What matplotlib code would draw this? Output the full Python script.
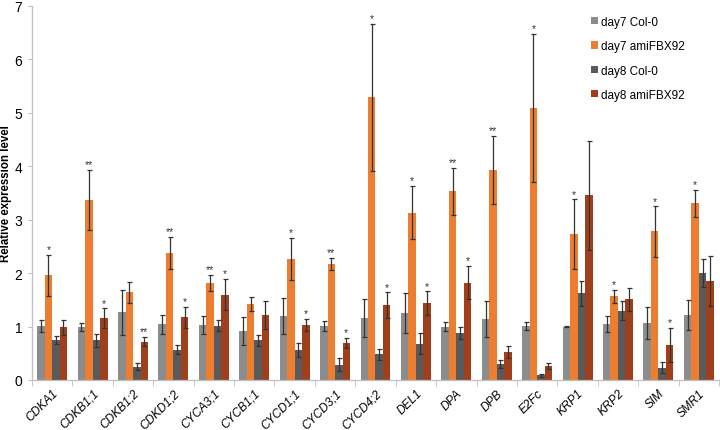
import matplotlib
matplotlib.use("Agg")
import matplotlib.pyplot as plt
import numpy as np
from matplotlib.patches import Patch

plt.rcParams['font.family'] = ['Liberation Sans', 'DejaVu Sans']

genes = ["CDKA1", "CDKB1;1", "CDKB1;2", "CDKD1;2", "CYCA3;1", "CYCB1;1", "CYCD1;1",
         "CYCD3;1", "CYCD4;2", "DEL1", "DPA", "DPB", "E2Fc", "KRP1", "KRP2", "SIM", "SMR1"]
series_names = ["day7 Col-0", "day7 amiFBX92", "day8 Col-0", "day8 amiFBX92"]

day7_col = [1.01, 0.99, 1.27, 1.04, 1.03, 0.91, 1.20, 1.01, 1.16, 1.25, 1.00, 1.14, 1.01, 1.00, 1.04, 1.06, 1.22]
day7_col_err = [0.12, 0.07, 0.42, 0.17, 0.17, 0.26, 0.34, 0.09, 0.36, 0.37, 0.08, 0.33, 0.07, 0.01, 0.15, 0.30, 0.28]
day7_ami = [1.96, 3.37, 1.64, 2.38, 1.82, 1.42, 2.27, 2.17, 5.29, 3.13, 3.53, 3.93, 5.09, 2.73, 1.57, 2.78, 3.31]
day7_ami_err = [0.38, 0.56, 0.20, 0.30, 0.15, 0.13, 0.39, 0.12, 1.38, 0.50, 0.44, 0.64, 1.39, 0.65, 0.12, 0.47, 0.25]
day8_col = [0.75, 0.74, 0.25, 0.57, 1.02, 0.74, 0.56, 0.29, 0.48, 0.68, 0.88, 0.30, 0.09, 1.62, 1.30, 0.23, 2.00]
day8_col_err = [0.07, 0.12, 0.06, 0.08, 0.10, 0.11, 0.13, 0.12, 0.10, 0.20, 0.11, 0.07, 0.03, 0.24, 0.17, 0.10, 0.26]
day8_ami = [0.99, 1.16, 0.72, 1.17, 1.60, 1.22, 1.03, 0.69, 1.40, 1.44, 1.82, 0.52, 0.26, 3.46, 1.51, 0.66, 1.86]
day8_ami_err = [0.14, 0.18, 0.09, 0.20, 0.29, 0.26, 0.12, 0.10, 0.24, 0.22, 0.31, 0.11, 0.05, 1.02, 0.21, 0.32, 0.47]

sig_day7_ami = ['*', '**', '', '**', '**', '', '*', '**', '*', '*', '**', '**', '*', '*', '*', '*', '*']
sig_day8_ami = ['', '*', '**', '*', '*', '', '*', '*', '*', '*', '*', '', '', '', '', '*', '']

y_ticks = [0, 1, 2, 3, 4, 5, 6, 7]

colors = ['#8C8C8C', '#ED7D31', '#5A5A5A', '#A03F1C']

fig = plt.figure(figsize=(7.2, 4.31), dpi=100)
ax = fig.add_axes([32 / 720, 50 / 431, 687 / 720, 374 / 431])

x = np.arange(len(genes))
w = 0.185
values = [day7_col, day7_ami, day8_col, day8_ami]
errors = [day7_col_err, day7_ami_err, day8_col_err, day8_ami_err]
sigs = [None, sig_day7_ami, None, sig_day8_ami]

for k in range(4):
    xs = x + (k - 1.5) * w
    ax.bar(xs, values[k], width=w, color=colors[k], zorder=2)
    ax.errorbar(xs, values[k], yerr=errors[k], fmt='none', ecolor='#333333',
                elinewidth=0.9, capsize=1.8, capthick=0.9, zorder=3)
    if sigs[k] is not None:
        for xi, v, e, s in zip(xs, values[k], errors[k], sigs[k]):
            if s:
                ax.annotate(s, (xi, v + e), xytext=(0, 0.5), textcoords='offset points',
                            ha='center', va='bottom', fontsize=7.5, color='#333333')

ax.set_xlim(-0.5, len(genes) - 0.5)
ax.set_ylim(0, 7)
ax.set_yticks(y_ticks)
ax.set_yticklabels([str(t) for t in y_ticks], fontsize=10)

ax.set_xticks(x)
ax.set_xticklabels(genes, rotation=45, ha='right', rotation_mode='anchor',
                   fontsize=8.6, style='italic')
ax.tick_params(axis='x', which='major', length=0, pad=5)
ax.set_xticks(np.arange(-0.5, len(genes), 1), minor=True)
ax.tick_params(axis='x', which='minor', length=4, color='#BFBFBF', direction='out')
ax.tick_params(axis='y', length=3, color='#BFBFBF', pad=4)

for side in ['top', 'right']:
    ax.spines[side].set_visible(False)
for side in ['left', 'bottom']:
    ax.spines[side].set_color('#BFBFBF')
    ax.spines[side].set_linewidth(0.9)

ax.set_ylabel("Relative expression level", fontsize=8.3, fontweight='bold')
ax.yaxis.set_label_coords(-20 / 687, 0.5)

handles = [Patch(facecolor=c, edgecolor='none') for c in colors]
fig.legend(handles, series_names, loc='upper left', bbox_to_anchor=(586 / 720, 1 - 12 / 431),
           frameon=False, fontsize=8.5, handlelength=0.6, handleheight=0.6,
           handletextpad=0.25, labelspacing=1.05, borderaxespad=0)

fig.savefig("out.png", dpi=100)
